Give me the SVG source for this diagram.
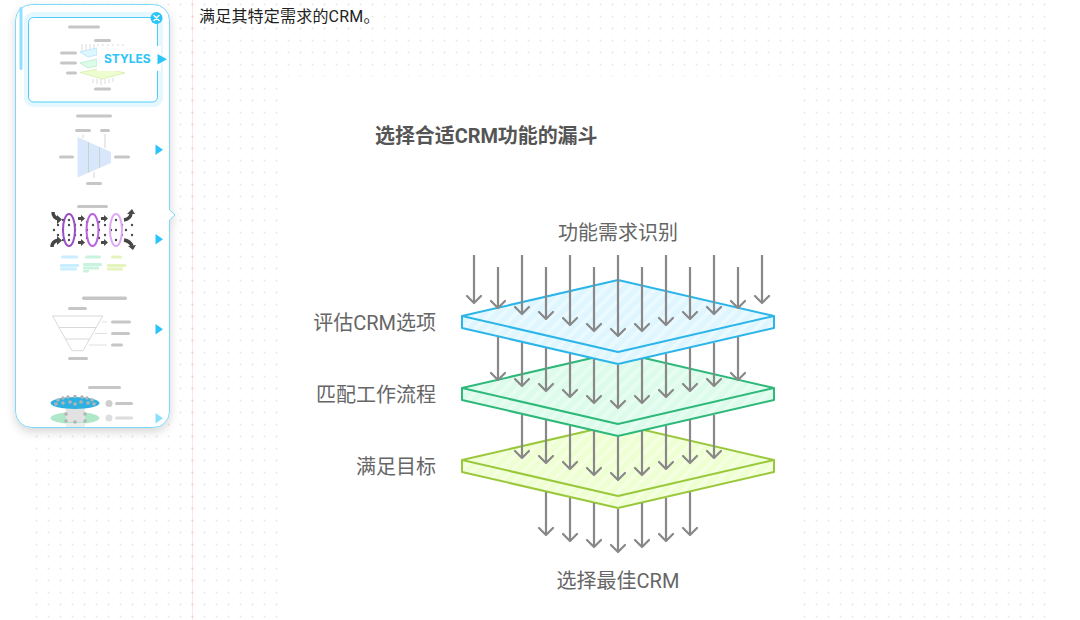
<svg xmlns="http://www.w3.org/2000/svg" width="1080" height="620" viewBox="0 0 1080 620">
<style>
text{font-family:Roboto,"Noto Sans CJK SC","Noto Sans",sans-serif}
.lbl{font-size:20px;fill:#666}
.end{text-anchor:end}
.mid{text-anchor:middle}
.arrows line{stroke:#888;stroke-width:2.2;marker-end:url(#head)}
.plate path{stroke-width:2;stroke-linejoin:round}
.bar{fill:#c6c6c6}
.tri{fill:#29c4f9}
.mini line{stroke:#c4c4c4;stroke-width:.6}
.cb{fill:#c9eeff}.cg{fill:#c8f3de}.cy{fill:#e5f3bd}
.dk{fill:#4a4a4a}
.chunk{fill:none;stroke:#444;stroke-width:3.4}
.person{fill:#b4b4b4}
</style>
<defs>
<pattern id="dots" x="30" y="-2" width="12" height="12" patternUnits="userSpaceOnUse"><circle cx="6.5" cy="6.5" r="1" fill="#e6e6e6"/></pattern>
<pattern id="pinkdots" x="186" y="-2" width="12" height="12" patternUnits="userSpaceOnUse"><circle cx="6.5" cy="6.5" r="1.1" fill="#ffc9c9"/></pattern>
<pattern id="hb" width="9" height="9" patternUnits="userSpaceOnUse" patternTransform="rotate(45)"><rect width="9" height="9" fill="#e0f6ff"/><rect width="3.5" height="9" fill="#ebfaff"/></pattern>
<pattern id="hg" width="9" height="9" patternUnits="userSpaceOnUse" patternTransform="rotate(45)"><rect width="9" height="9" fill="#dcfbea"/><rect width="3.5" height="9" fill="#e8fdf2"/></pattern>
<pattern id="hy" width="9" height="9" patternUnits="userSpaceOnUse" patternTransform="rotate(45)"><rect width="9" height="9" fill="#eeffd2"/><rect width="3.5" height="9" fill="#f5ffe2"/></pattern>
<marker id="head" markerUnits="userSpaceOnUse" markerWidth="12" markerHeight="18" refX="9" refY="9" orient="auto" viewBox="0 0 12 18"><path d="M2 2L9 9L2 16" fill="none" stroke="#888" stroke-width="2.2" stroke-linecap="round" stroke-linejoin="round"/></marker>
<filter id="sh" x="-15%" y="-5%" width="130%" height="110%"><feDropShadow dx="0" dy="4" stdDeviation="5" flood-color="#000" flood-opacity=".16"/></filter>
<filter id="soft" x="-5%" y="-5%" width="110%" height="110%"><feGaussianBlur stdDeviation=".35"/></filter>
<clipPath id="panelclip"><rect x="16" y="5" width="153" height="422" rx="15"/></clipPath>
</defs>

<g id="background">
<rect width="1080" height="620" fill="#fff"/>
<rect x="30" y="0" width="1018" height="620" fill="url(#dots)"/>
<rect x="192" y="0" width="1" height="620" fill="#ffe6e6"/>
<rect x="190" y="0" width="5" height="620" fill="url(#pinkdots)"/>
<rect x="280" y="76.500" width="520" height="544" fill="#fff"/>
</g>

<text id="intro" x="199" y="22" font-size="16" fill="#222" letter-spacing=".2">满足其特定需求的CRM。</text>

<g id="sidebar">
<path d="M31.500 4.500H153.500A16 16 0 0 1 169.500 20.500V210L175 215L169.500 220V411.500A16 16 0 0 1 153.500 427.500H31.500A16 16 0 0 1 15.500 411.500V20.500A16 16 0 0 1 31.500 4.500Z" fill="#fff" stroke="#7fd8f8" stroke-width="1" filter="url(#sh)"/>
<rect x="19.500" y="7" width="3" height="63" rx="1.500" fill="#8fe2ff"/>
<rect x="24" y="12" width="139" height="95" rx="9" fill="#e6f8ff"/>
<rect x="28.500" y="17.500" width="129" height="84.500" rx="5" fill="#fff" stroke="#4fcdf6" stroke-width="1"/>

<g id="thumb1" filter="url(#soft)">
<rect class="bar" x="68" y="25.500" width="32" height="3" rx="1.500"/>
<rect class="bar" x="94" y="39" width="17" height="3" rx="1.500"/>
<rect class="bar" x="60" y="51.500" width="17" height="3" rx="1.500"/>
<rect class="bar" x="60" y="61.500" width="17" height="3" rx="1.500"/>
<rect class="bar" x="66" y="71.500" width="11" height="3" rx="1.500"/>
<rect class="bar" x="94" y="87.500" width="17" height="3" rx="1.500"/>
<g class="mini">
<line x1="82" y1="44" x2="82" y2="52"/><line x1="86" y1="44" x2="86" y2="53"/><line x1="90" y1="44" x2="90" y2="54"/><line x1="94" y1="44" x2="94" y2="55"/><line x1="98" y1="44" x2="98" y2="56"/><line x1="103" y1="44" x2="103" y2="48"/><line x1="108" y1="44" x2="108" y2="48"/><line x1="113" y1="44" x2="113" y2="48"/><line x1="118" y1="44" x2="118" y2="48"/><line x1="123" y1="44" x2="123" y2="47"/>
</g>
<path d="M80 52L97 48V55L88 57Z" fill="#dff5ff" stroke="#9adff7" stroke-width=".6"/>
<path d="M80 63L97 59V66L88 68Z" fill="#dcfbe9" stroke="#a6e6c6" stroke-width=".6"/>
<path d="M80 72.500L102 68L125 73L102 79Z" fill="#eefdd0" stroke="#cfe59a" stroke-width=".6"/>
<g class="mini">
<line x1="93" y1="79" x2="93" y2="83"/><line x1="97" y1="79" x2="97" y2="84"/><line x1="101" y1="79" x2="101" y2="85"/><line x1="105" y1="79" x2="105" y2="84"/><line x1="109" y1="79" x2="109" y2="83"/><line x1="113" y1="78" x2="113" y2="82"/>
</g>
</g>
<rect x="97" y="46" width="64" height="25" fill="#fff"/>
<text id="styles-label" x="104" y="63" font-size="12" font-weight="700" fill="#2cc5fa" style="font-family:Inter,'Noto Sans',sans-serif">STYLES</text>
<path class="tri" d="M157.500 54V64.500L167 59.200Z"/>
<g id="close-btn"><circle cx="156.500" cy="18" r="6" fill="#29c4f9"/><path d="M154 15.500L159 20.500M159 15.500L154 20.500" stroke="#fff" stroke-width="1.500" stroke-linecap="round"/></g>

<g id="thumb2" filter="url(#soft)">
<rect class="bar" x="76" y="114.500" width="36" height="3" rx="1.500"/>
<rect class="bar" x="75" y="129" width="16" height="3" rx="1.500"/>
<rect class="bar" x="100" y="129" width="10" height="3" rx="1.500"/>
<rect class="bar" x="59" y="155.500" width="15" height="3" rx="1.500"/>
<rect class="bar" x="114" y="155.500" width="16" height="3" rx="1.500"/>
<rect class="bar" x="86" y="182" width="16" height="3" rx="1.500"/>
<path d="M77.500 137L111 152V163L77.500 177.500Z" fill="#d8e7fb"/>
<path d="M88.500 142V172.500M99.500 147V168" stroke="#b7c9a8" stroke-width=".6" fill="none"/>
<path d="M83 134.500V138M105 134V148M94 172V178" stroke="#bbb" stroke-width=".6" fill="none"/>
</g>
<path class="tri" d="M155.500 144.500V155L163 149.700Z"/>

<g id="thumb3" filter="url(#soft)">
<rect class="bar" x="77" y="205" width="31" height="3" rx="1.500"/>
<g class="dk">
<circle cx="54" cy="230" r="1.200"/><circle cx="58" cy="225" r="1.200"/><circle cx="58" cy="235" r="1.200"/><circle cx="63" cy="220" r="1.200"/><circle cx="63" cy="230" r="1.200"/><circle cx="63" cy="240" r="1.200"/><circle cx="69" cy="225" r="1.200"/><circle cx="69" cy="235" r="1.200"/><circle cx="69" cy="220" r="1.200"/><circle cx="69" cy="240" r="1.200"/><circle cx="75" cy="230" r="1.200"/><circle cx="75" cy="225" r="1.200"/><circle cx="75" cy="235" r="1.200"/><circle cx="81" cy="225" r="1.200"/><circle cx="81" cy="235" r="1.200"/><circle cx="87" cy="230" r="1.200"/><circle cx="87" cy="222" r="1.200"/><circle cx="87" cy="238" r="1.200"/><circle cx="93" cy="225" r="1.200"/><circle cx="93" cy="235" r="1.200"/><circle cx="99" cy="230" r="1.200"/><circle cx="99" cy="222" r="1.200"/><circle cx="99" cy="238" r="1.200"/><circle cx="105" cy="225" r="1.200"/><circle cx="105" cy="235" r="1.200"/><circle cx="111" cy="230" r="1.200"/><circle cx="116" cy="220" r="1.200"/><circle cx="116" cy="230" r="1.200"/><circle cx="116" cy="240" r="1.200"/><circle cx="122" cy="225" r="1.200"/><circle cx="122" cy="235" r="1.200"/><circle cx="126" cy="230" r="1.200"/><circle cx="132" cy="225" r="1.200"/><circle cx="132" cy="235" r="1.200"/>
</g>
<ellipse cx="69" cy="230" rx="6" ry="16" fill="none" stroke="#9a4fc7" stroke-width="2"/>
<ellipse cx="92.500" cy="230" rx="6" ry="16" fill="none" stroke="#b964e2" stroke-width="2"/>
<ellipse cx="116" cy="230" rx="6" ry="16" fill="none" stroke="#deaaf5" stroke-width="2"/>
<path class="chunk" d="M53 212Q53 218 59 219"/><path class="dk" d="M57 215L62 219.500L57 224Z"/>
<path class="chunk" d="M124 220Q130 219 131 214"/><path class="dk" d="M127 214L135 214L132 209Z"/>
<path class="chunk" d="M52 247Q52 241 59 240"/><path class="dk" d="M57 236L62 240.500L57 245Z"/>
<path class="chunk" d="M124 240Q130 241 132 246"/><path class="dk" d="M128 246L136 245L133 250Z"/>
<path class="dk" d="M78 217H81V215L85 218.500L81 222V220H78Z"/><path class="dk" d="M101 217H104V215L108 218.500L104 222V220H101Z"/>
<path class="dk" d="M78 241H81V239L85 242.500L81 246V244H78Z"/><path class="dk" d="M101 241H104V239L108 242.500L104 246V244H101Z"/>
<rect class="cb" x="61" y="255.500" width="17" height="3" rx="1.500"/><rect class="cg" x="85" y="255.500" width="16" height="3" rx="1.500"/><rect class="cy" x="111" y="255.500" width="11" height="3" rx="1.500"/>
<rect class="cb" x="60" y="264" width="19" height="3" rx="1"/><rect class="cb" x="60" y="267.500" width="17" height="3" rx="1"/>
<rect class="cg" x="83" y="263" width="19" height="3" rx="1"/><rect class="cg" x="83" y="266.500" width="16" height="3" rx="1"/><rect class="cg" x="83" y="270" width="6" height="2.500" rx="1"/>
<rect class="cy" x="107" y="264" width="19" height="3" rx="1"/><rect class="cy" x="107" y="267.500" width="16" height="3" rx="1"/>
</g>
<path class="tri" d="M155.500 234V244.500L163 239.200Z"/>

<g id="thumb4" filter="url(#soft)">
<rect class="bar" x="82" y="296.500" width="45" height="3.500" rx="1.700"/>
<rect class="bar" x="68" y="307" width="19" height="3" rx="1.500"/>
<path d="M52.700 316H102.700L83 350.700H72ZM59 327.500H96.500M65.500 339H90" fill="none" stroke="#cfcfcf" stroke-width=".8"/>
<rect class="bar" x="111" y="320.500" width="20" height="3" rx="1.500"/>
<rect class="bar" x="111" y="332" width="19" height="3" rx="1.500"/>
<rect class="bar" x="111" y="343.500" width="12" height="3" rx="1.500"/>
<rect class="bar" x="68" y="357" width="20" height="3" rx="1.500"/>
<path d="M102 322H107M95 333.500H107M89 345H107" stroke="#ccc" stroke-width=".6" fill="none"/>
</g>
<path class="tri" d="M155.500 324V334.500L163 329.200Z"/>

<g id="thumb5" clip-path="url(#panelclip)">
<g filter="url(#soft)">
<rect class="bar" x="88" y="386" width="33" height="3" rx="1.500"/>
<ellipse cx="75" cy="418" rx="24.500" ry="6" fill="#aee8c8"/>
<rect x="66" y="405" width="19" height="17" fill="#e2e2e2"/>
<rect x="66" y="423" width="19" height="4" fill="#ececec"/>
<ellipse cx="75" cy="403" rx="24.500" ry="6" fill="#2eb0e0"/>
<g class="person">
<circle cx="58" cy="400" r="1.800"/><circle cx="63" cy="398" r="1.800"/><circle cx="68" cy="397" r="1.800"/><circle cx="75" cy="396.500" r="1.800"/><circle cx="82" cy="397" r="1.800"/><circle cx="87" cy="398" r="1.800"/><circle cx="92" cy="400" r="1.800"/><circle cx="56" cy="404" r="1.800"/><circle cx="63" cy="403" r="1.800"/><circle cx="70" cy="402" r="1.800"/><circle cx="75" cy="404" r="1.800"/><circle cx="81" cy="402" r="1.800"/><circle cx="88" cy="403" r="1.800"/><circle cx="94" cy="404" r="1.800"/><circle cx="66" cy="414" r="1.800"/><circle cx="85" cy="414" r="1.800"/><circle cx="66" cy="421" r="1.800"/><circle cx="75" cy="422" r="1.800"/><circle cx="85" cy="421" r="1.800"/>
</g>
<circle cx="109" cy="403.500" r="3.500" fill="#cfcfcf"/>
<rect class="bar" x="115" y="402" width="18" height="3" rx="1.500"/>
<circle cx="109" cy="418" r="3.500" fill="#dedede"/>
<rect x="115" y="416.500" width="18" height="3" rx="1.500" fill="#dcdcdc"/>
</g>
</g>
<path class="tri" d="M155.500 413V423.500L163 418.200Z" opacity=".55"/>
</g>

<text id="title" x="375" y="143" font-size="20" font-weight="700" fill="#555" letter-spacing="-.08">选择合适CRM功能的漏斗</text>

<g id="plate-goal" class="plate"><path d="M462 460L618 424L774 460V472L618 508L462 472Z" fill="url(#hy)" stroke="#9ac83c"/><path d="M462 460L618 496L774 460" fill="none" stroke="#9ac83c"/></g>
<g id="plate-workflow" class="plate"><path d="M462 388L618 352L774 388V400L618 436L462 400Z" fill="url(#hg)" stroke="#2eb87a"/><path d="M462 388L618 424L774 388" fill="none" stroke="#2eb87a"/></g>
<g id="plate-options" class="plate"><path d="M462 316L618 280L774 316V328L618 364L462 328Z" fill="url(#hb)" stroke="#2cb5e8"/><path d="M462 316L618 352L774 316" fill="none" stroke="#2cb5e8"/></g>

<g id="connectors" class="arrows">
<line x1="474" y1="255" x2="474" y2="303"/><line x1="498" y1="267" x2="498" y2="308"/><line x1="522" y1="255" x2="522" y2="314"/><line x1="546" y1="267" x2="546" y2="319"/><line x1="570" y1="255" x2="570" y2="325"/><line x1="594" y1="267" x2="594" y2="331"/><line x1="618" y1="255" x2="618" y2="336"/><line x1="642" y1="267" x2="642" y2="331"/><line x1="666" y1="255" x2="666" y2="325"/><line x1="690" y1="267" x2="690" y2="319"/><line x1="714" y1="255" x2="714" y2="314"/><line x1="738" y1="267" x2="738" y2="308"/><line x1="762" y1="255" x2="762" y2="303"/>
<line x1="498" y1="337" x2="498" y2="380"/><line x1="522" y1="343" x2="522" y2="386"/><line x1="546" y1="348" x2="546" y2="391"/><line x1="570" y1="354" x2="570" y2="397"/><line x1="594" y1="359" x2="594" y2="403"/><line x1="618" y1="365" x2="618" y2="408"/><line x1="642" y1="359" x2="642" y2="403"/><line x1="666" y1="354" x2="666" y2="397"/><line x1="690" y1="348" x2="690" y2="391"/><line x1="714" y1="343" x2="714" y2="386"/><line x1="738" y1="337" x2="738" y2="380"/>
<line x1="522" y1="415" x2="522" y2="458"/><line x1="546" y1="420" x2="546" y2="463"/><line x1="570" y1="426" x2="570" y2="469"/><line x1="594" y1="431" x2="594" y2="475"/><line x1="618" y1="437" x2="618" y2="480"/><line x1="642" y1="431" x2="642" y2="475"/><line x1="666" y1="426" x2="666" y2="469"/><line x1="690" y1="420" x2="690" y2="463"/><line x1="714" y1="415" x2="714" y2="458"/>
<line x1="546" y1="492" x2="546" y2="535"/><line x1="570" y1="498" x2="570" y2="541"/><line x1="594" y1="503" x2="594" y2="547"/><line x1="618" y1="509" x2="618" y2="552"/><line x1="642" y1="503" x2="642" y2="547"/><line x1="666" y1="498" x2="666" y2="541"/><line x1="690" y1="492" x2="690" y2="535"/>
</g>

<g id="labels">
<text class="lbl mid" x="618" y="239.500">功能需求识别</text>
<text class="lbl end" x="436" y="329.500">评估CRM选项</text>
<text class="lbl end" x="436" y="401.500">匹配工作流程</text>
<text class="lbl end" x="436" y="473.500">满足目标</text>
<text class="lbl mid" x="618" y="587.500">选择最佳CRM</text>
</g>
</svg>
